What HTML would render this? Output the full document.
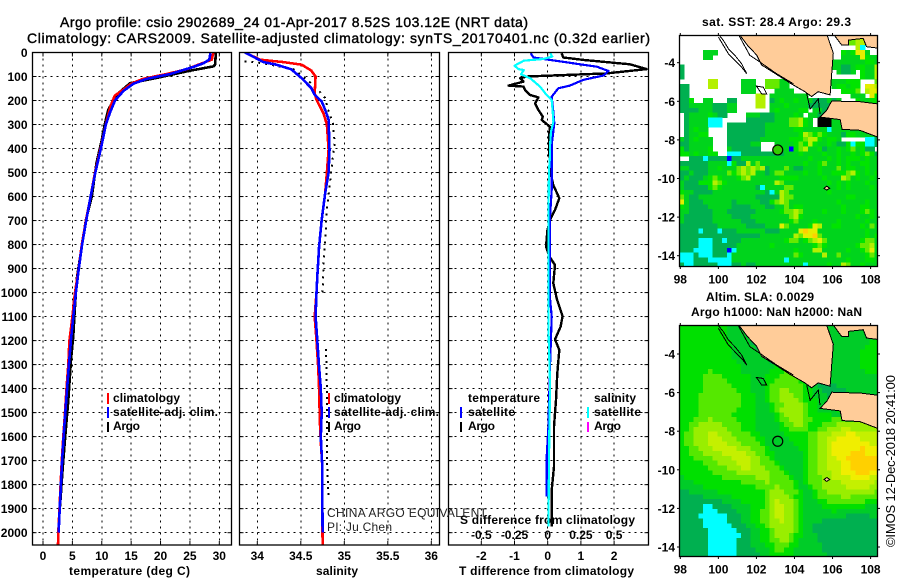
<!DOCTYPE html>
<html>
<head>
<meta charset="utf-8">
<title>Argo profile</title>
<style>
html,body{margin:0;padding:0;background:#fff;}
svg{display:block;}
text{font-family:"Liberation Sans",sans-serif;fill:#000;}
.t{font-size:14px;stroke:#000;stroke-width:.4px;}
.b{font-size:12px;font-weight:bold;}
</style>
</head>
<body>
<svg id="chart" width="900" height="580" viewBox="0 0 900 580" xmlns="http://www.w3.org/2000/svg">
<defs>
<clipPath id="clip-p1"><rect x="32.5" y="52.5" width="199" height="492.5"/></clipPath>
<clipPath id="clip-p2"><rect x="239.5" y="52.5" width="200" height="492.5"/></clipPath>
<clipPath id="clip-p3"><rect x="448.5" y="52.5" width="200" height="492.5"/></clipPath>
<clipPath id="clip-m1"><rect x="679.5" y="35.5" width="198" height="231"/></clipPath>
<clipPath id="clip-m2"><rect x="679.5" y="325.5" width="198" height="231"/></clipPath>
</defs>
<text class="t" x="60" y="27" textLength="468" lengthAdjust="spacing">Argo profile: csio 2902689_24 01-Apr-2017 8.52S 103.12E (NRT data)</text>
<text class="t" x="27" y="43" textLength="623" lengthAdjust="spacing">Climatology: CARS2009. Satellite-adjusted climatology: synTS_20170401.nc (0.32d earlier)</text>

<text class="b" x="69" y="575" textLength="121" lengthAdjust="spacing">temperature (deg C)</text>
<text class="b" x="316" y="575" textLength="42" lengthAdjust="spacing">salinity</text>
<text class="b" x="459" y="575" textLength="175" lengthAdjust="spacing">T difference from climatology</text>
<text class="b" x="460" y="524" textLength="175" lengthAdjust="spacing">S difference from climatology</text>

<text class="b" x="113" y="402" textLength="67" lengthAdjust="spacing">climatology</text>
<text class="b" x="113" y="416" textLength="105" lengthAdjust="spacing">satellite-adj. clim.</text>
<text class="b" x="113" y="430" textLength="27" lengthAdjust="spacing">Argo</text>
<text class="b" x="334" y="402" textLength="67" lengthAdjust="spacing">climatology</text>
<text class="b" x="334" y="416" textLength="105" lengthAdjust="spacing">satellite-adj. clim.</text>
<text class="b" x="334" y="430" textLength="27" lengthAdjust="spacing">Argo</text>
<text class="b" x="468" y="402" textLength="72" lengthAdjust="spacing">temperature</text>
<text class="b" x="468" y="416" textLength="47" lengthAdjust="spacing">satellite</text>
<text class="b" x="468" y="430" textLength="27" lengthAdjust="spacing">Argo</text>
<text class="b" x="594" y="402" textLength="42" lengthAdjust="spacing">salinity</text>
<text class="b" x="594" y="416" textLength="47" lengthAdjust="spacing">satellite</text>
<text class="b" x="594" y="430" textLength="27" lengthAdjust="spacing">Argo</text>

<text class="b" x="702" y="26" textLength="149" lengthAdjust="spacing">sat. SST: 28.4 Argo: 29.3</text>
<text class="b" x="706" y="301" textLength="108" lengthAdjust="spacing">Altim. SLA: 0.0029</text>
<text class="b" x="691" y="316" textLength="171" lengthAdjust="spacing">Argo h1000: NaN h2000: NaN</text>
<text transform="translate(895,547) rotate(-90)" font-size="13" textLength="172" lengthAdjust="spacing">©IMOS 12-Dec-2018 20:41:00</text>
<g id="layer"></g>
<text x="327" y="517" font-size="12" textLength="160" lengthAdjust="spacing" style="fill:#222">CHINA ARGO EQUIVALENT</text>
<text x="327" y="531" font-size="12" textLength="65" lengthAdjust="spacing" style="fill:#222">PI: Ju Chen</text>
</svg>
<script>
// ---------- profile data (depth in m) ----------
const depthTicks = [0,100,200,300,400,500,600,700,800,900,1000,1100,1200,1300,1400,1500,1600,1700,1800,1900,2000];
const tempTicks = [0,5,10,15,20,25,30];
const salTicks = [34,34.5,35,35.5,36];
const salTickLabels = ['34','34.5','35','35.5','36'];
const tDiffTicks = [-2,-1,0,1,2];
const sDiffTicks = [-0.5,-0.25,0,0.25,0.5];
const sDiffLabels = ['-0.5','-0.25','0','0.25','0.5'];
const lonTicks = [98,100,102,104,106,108];
const latTicks = [-4,-6,-8,-10,-12,-14];

const tempClimDepth = [0,30,40,70,90,110,130,150,180,230,300,400,500,600,700,800,900,1000,1100,1200,1300,1400,1500,1600,1700,1800,1900,2000,2050];
const tempClim = [29,28.7,27.6,24.4,21,17,15,13.95,12.2,11.4,10.7,9.8,8.85,8.1,7.3,6.6,6.07,5.45,5,4.5,4.3,4,3.75,3.46,3.2,3,2.8,2.6,2.55];
const tempSatDepth = [0,30,45,60,90,110,130,160,200,250,300,400,500,600,700,800,900,1000,1100,1200,1300,1400,1500,1600,1700,1800,1900,2000];
const tempSat = [28.5,28.3,27.3,25.6,21.6,17.6,15.4,13.7,12.25,11.4,10.7,9.85,8.9,8.1,7.35,6.65,6.1,5.6,5.15,4.75,4.4,4.1,3.8,3.5,3.25,3.05,2.85,2.65];
const tempArgoDepth = [0,50,58,76,103,128,176,239,300,364,460,600,697,808,933,1000,1075,1180,1280,1450,1575,1730,1855,1950];
const tempArgo = [29.4,29.3,29,25,19.9,14.8,12.5,11.1,10.5,10,9.1,8.3,7.3,6.6,5.8,5.6,5.4,5.16,4.76,4.3,3.86,3.35,3,2.7];

const salClimDepth = [0,30,40,51,75,100,170,197,253,300,405,500,585,697,808,933,1000,1100,1200,1310,1400,1540,1620,1710,2050];
const salClim = [33.86,34.03,34.3,34.51,34.62,34.67,34.66,34.68,34.76,34.8,34.82,34.8,34.78,34.74,34.71,34.69,34.68,34.66,34.68,34.7,34.71,34.72,34.73,34.745,34.75];
const salSatDepth = [0,17,40,51,70,107,148,176,204,239,280,405,500,585,697,808,933,1000,1100,1200,1310,1400,1500,1600,1710,2000];
const salSat = [33.86,33.95,34.07,34.22,34.39,34.51,34.62,34.66,34.74,34.78,34.82,34.83,34.82,34.78,34.74,34.71,34.69,34.68,34.67,34.69,34.71,34.73,34.74,34.73,34.745,34.75];
const salArgoDepth = [37,37,45,70,107,148,190,245,294,378,430,544,655,780,890,1000];
const salArgo = [33.85,33.9,34.07,34.42,34.55,34.68,34.78,34.82,34.87,34.89,34.87,34.835,34.8,34.78,34.76,34.75];
const salArgoDeepDepth = [1235,1400,1700,1850];
const salArgoDeep = [34.79,34.8,34.8,34.82];

const tDiffArgoDepth = [3,21,31,49,69,87,100,107,121,138,142,156,177,187,212,239,267,281,309,330,427,490,552,607,656,690,740,809,850,885,961,1024,1098,1142,1195,1239,1336,1447,1558,1725,1822,1975];
const tDiffArgo = [0.42,0.47,1.07,2.48,2.98,1.78,-0.63,-0.83,-0.73,-1.18,-0.73,-0.68,-0.53,-0.28,-0.38,-0.28,-0.15,-0.18,0.07,0.05,0.05,0.07,0.17,0.35,0.22,0.09,-0.01,-0.05,0.05,0.22,0.17,0.27,0.45,0.39,0.22,0.35,0.29,0.25,0.19,0.19,0.12,0.12];
const tDiffSatDepth = [3,21,38,59,77,96,114,138,149,184,246,295,385,427,490,572,684,1024,1100,1308,1558,1683,1850];
const tDiffSat = [-0.51,-0.43,0.42,1.48,1.83,1.68,1.07,0.67,0.32,0.12,0.17,0.2,0.12,0.12,0.12,0.12,0.07,0.07,0.12,0.07,0.02,-0.03,-0.03];
const sDiffSatDepth = [3,17,27,34,55,69,73,91,108,142,177,198,246,288,330,385,427,490,684,1024,1142,1392,1586,1975];
const sDiffSat = [0.018,0.035,-0.033,-0.18,-0.25,-0.22,-0.18,-0.2,-0.13,-0.058,-0.008,0.03,0.038,0.043,0.025,0.018,0.018,0.01,0.005,0.005,0.005,0.018,0.012,0.005];

// ---------- gridded map values (one letter per 0.25 degree cell) ----------
const sstRows = [
"...................................ddeee...",
"...................................ddeek...",
".....................................eC....",
".....bbb..........................cbcffb...",
".....bb...........................bbbbfcbb.",
"................................bbbbbbbccb..",
"a...............................bbaabccbbe",
"a................................baab.cbbe",
"a.....................................cbbe",
"......ee.....bbb..dddbb.........bbbccc...d",
"aa....ee.....bbb..dddbb.........bccbcc.ffe",
"aa...........bbb....bbbb..........cccd.eff",
"aa..............ee.bbbbbbbb.........bbb.fc",
"aac..bb...aa....ee.abcbbcbbbaaabab...cbbcc",
"aabbbbbaaabb....ee.bbbcbbbbaaaaaabbbbbbbbb",
"aaaabbbaaabb.......bcbbbbcc.bbaaaaabbbbbbb",
".abbbbcbaa....bbbaaabbbbcb.bbaaabbbbbbbbb",
".abbbbCCC.....aaaaaabbbddecb.kkkbbbbbbbbbb",
".abbbbCCC.aaaaaaaabbbbbddecb.kkkbbbbbbbbbb",
".abcbb....aaaaaaaabbbbbbccbbbbbCbbbbbbbbbb",
".abbcc....aaaaaaaabbbbbbbcedcdcbbbaccbbbbb",
"babcbbb...aaaaaaabbbbbbcccdeecbccb.....CCa",
"aabbbbb...aaaaabb...bbbbcdcecbbcbaacCccCCa",
"cabbbbc...baaaaaa...bbbBcdebbcabbcbcdbcaa",
"ccbcbbcc..CCCaaaaaaaaabbbcbbbbcbbcbbcbcdca",
"..aaaCaaaaBaabbbbbbbbbbbbbbcbbbcbcbcccbcbb",
"aaaaaabbbbCcaaebdbbbbbbbbbcbbcdbbcbcbbccbb",
"bbaaaabbcbbbdededeabbbdbaabbbcbbbdbccbbcbb",
"aabaaabbbbdcdedebbabddbbbbcbbcbbcccdecbcbc",
"abaaabcdcbbbcdebbbbbbccccbbbbbcbbbedbcbbcb",
"baaacccedcbbbbbbbbbbedbbbbbbbbbcbcbcbbbcbb",
"baaaaacdcbbbbbbbaCbbbbddbbbbbbbbbcbcbbbbcb",
"cbbaaaabbbbbbbbbbbaCbedbbbbbbbbcbbbbbbbbbb",
"dbaabbbbbbbbbbbbaaaaaeddbbbbbbbbbbbccbbbbb",
"fbaaabbbbbbabbbbbaacdedbbbbbbbbbbcbbbbbcbb",
"cbaaaabbbbbaaaabbbaabbdbccbbbbbbbbcbbbccbb",
"bbaaaaabbbaaaaaabbbbbcddedbbbbcbbbcbbbcdcb",
"baaaaaabbbbaaaabbbbbbbbdecbbbbbbbbbbbcbbcb",
"baaaaaabbbbbbaaabbbbbbbcdbbbcbbbbcbbbbbcbb",
"aaaaaaaabbbbbbaaaabbbfdbbbbcfebbccbbbbcbdb",
"aaaaCaaaCaaabbbbbbaaabbbbfgffbbbbbbbbbbcbb",
"aaaaaaaaaaaaaaaaabbbbbbbedffgdbbbbbbbbbcbc",
"aaaaCCCaaCaaabbbbbbbbbcddbcdefdbbbbbbbcddb",
"aaaaCCCaaaaabbbbbbbcbbbbbbbbcdcbbbbbbcddeb",
"aaaCCCCaaaBCbbbbbbbbbbbbcbbbeebbbbbcbbcdfb",
"CCCaCCCaaaCbbbbbbbbbbbbbdcbbbbebbdbbbbbcdb",
"CCCaaaCCCCCbbbbbbbbbbbCbbbbbbbbbbbbcbbbccb",
"aCCaaaaaCCCaabaabbbbbbbbbbCbbbbcbbedbbcbbb"
];
const slaRows = [
"ccccccccccbbbbbbbbbbbbbbbbbbbbbbbbbbbbbbbb",
"ccccccccccbbbbbbbbbbbbbbbbbbbbbbbbbbbbbbbb",
"ccccccccccbbbbbbbbbbbbbbbbbbbbbbbbbbbbbbbb",
"cccccccccccbbbbaabbbbbbbbbbbbbbbbbbbbbbbcc",
"cccccccccccbbbbbaabbbbbbbbbbbbbbbbbbbbbccc",
"cccccccccccbbbbbbaabbbbbbbbbbbbbbbbbbbcccc",
"cccccccccccbbbbbbbaabbbbbbbbbbbbbbbbbbcccc",
"ccccccccccccbbbbbbbaabbbbbbbbbbbbbbbbbcccc",
"cccccccccccccbbbbbbbccccaaabbbbbbbbbbbcccc",
"ccccccdccccccbbbbbbcccdccaaabbbbbbbbbbbccc",
"cccccddddccccccbbbcccddddcbaaabbbbbbbbbbbb",
"cccccdddddcccccbbbccdddddccbaaabbbbbbbbbbb",
"cccccddddddccccbbbcdddddddcbbaaaabbbbbbbbb",
"cccccdddddddcccbbbcddeedddccbbaaaaabbbbbbb",
"ccccdddddddddcccbbcddeeeddccbbbaaaaaabbbbb",
"ccccdddddddddcccbbcddeeeedcccbbbaabbbbbbbb",
"ccccdddddddddcccbbbcddeeeedccbbbbbbbbbbbbb",
"ccccddddddddccccbbbcdeeeeedccbbbbcbbbbbbbb",
"ccccdddddddcccccbbbbcdeeeedcccccbbbbbbbbbb",
"cccdddedddddccccbbbbcddeeeddccccdddccccccc",
"ccddeeeeeddddcccbbbbbcddeedcccdddeeeeeeeee",
"ccdeeeeeeedddcccbbbbbccddddccddeeeffeeeeee",
"cddeeeffeeeddddccbbbbbcccccddeeefffggfffff",
"cddeeefffeeeddddccbbbbbccccddeeffgggggffff",
"cddeeeffffeeeddddcbbbbbbcccddeefggggggggff",
"ccddeeefffffeeedddcbbbbbbccddeefgggggghggg",
"ccdddeeeefffffeeddccbbbbbbcddeefgggghhhggg",
"cccddddeeeeffffeeddcbbbbbbcddeeffgghhhhhhh",
"cccccdddeeeefffeedddcbbbbbcddeefffgghhhhhh",
"ccccccddddeeeffeeedddcbbbbcddeefffgghhhhhh",
"cccccccdddddeeeeeeedddcbbbcddeeeffggghhhgg",
"bccccccccdddddddeeeddddcbbcdddeeffffggggff",
"bbbccccccccccdddddedddddcbcdddeeeefffffffe",
"bbbbbcccccccccccddddedddcbbcddeeeeefffffee",
"aabbbbbbccccccccccdeeedddcbbcddeeeeeeeeeed",
"aaaaabbbbbbcccccccdeeeedccbbcdddddeedddddd",
"aaaaaaaaabbbbcccccdefeeedcbbbccddddddddccc",
"aaaaaCCaaaabbbbcccdeffeedcbbbbcccccccccbbb",
"aaaaaCCCaaaabbbccddeffeedcbbbbbbcbbbbbbbbb",
"aaaaCCCCCCaaabbccddeffeedcbbbbbbbbbaaaaabb",
"aaaaaCCCCCaaabbccddeefeedcbbbbaaaaaaaaaaaa",
"aaaaaCCCCCCaaabbccdeeeeedcbbaaaaaaaaaaaaaa",
"aaaaaaCCCCCCaaabbccdeeeedcbbaaaaaaaaaaaaaa",
"aaaaaaCCCCCCCaabbccdeeedccbbbaaaaaaaaaaaaa",
"aaaaaaCCCCCCaaabbccddeedcbbbbaaaaaaaaaaaaa",
"aaaaaaCCCCCCaaabbbccdddccbbbbbaaaaaaaaaaaa",
"aaaaaaCCCCCCaaaabbbcddccbbbbbbaaaaaaaaaaaa",
"aaaaaaCCCCCCaaaaabbcccccbbbbbbbaaaaaaaaaaa"
];
// ---------- geography (lon, lat) ----------
const sumatra = [[101.08,-2.5],[101.52,-3.09],[102.01,-3.6],[102.27,-4.12],[102.89,-4.5],[103.24,-4.72],[103.76,-5.05],[104.55,-5.5],[104.9,-5.75],[105.24,-5.5],[105.87,-5.67],[105.96,-4.5],[106.04,-3.5],[105.69,-2.5]];
const borneoSide = [[106.04,-2.5],[106.48,-3.09],[106.83,-3.09],[106.83,-2.83],[107.61,-2.74],[107.79,-3.17],[108.5,-3.26],[108.5,-2.5]];
const java = [[105.34,-6.82],[105.7,-6.45],[105.96,-5.98],[106.5,-6],[107.44,-6.02],[108.5,-6.15],[108.5,-7.9],[107.44,-7.5],[106.5,-7.45],[106.4,-6.95]];
const enggano = [[102,-5.21],[102.36,-5.27],[102.54,-5.61],[102.27,-5.61],[102.1,-5.35]];
const christmasIsland = [[105.55,-10.5],[105.7,-10.4],[105.85,-10.5],[105.7,-10.6]];
const mentawai = [[100,-2.53],[100.26,-2.84],[100.52,-3.27],[100.87,-3.62],[101.22,-4.05],[101.49,-4.57],[101.22,-4.23],[100.87,-3.88],[100.52,-3.53],[100.26,-3.1],[100,-2.67]];
const shelfLine = [[101.05,-2.53],[101.66,-3.62],[102.19,-3.97],[103.06,-4.57],[103.94,-5.09]];
const straitLine = [[104.64,-5.6],[104.82,-6.4],[105.25,-5.87],[105.34,-6.65]];
const profileLon = 103.12;
const profileLat = -8.52;

// ---------- drawing ----------
const NS = 'http://www.w3.org/2000/svg';
const layer = document.getElementById('layer');
function make(tag, attrs, name) {
  const el = document.createElementNS(NS, tag);
  for (const k in attrs) el.setAttribute(k, attrs[k]);
  
  
  layer.appendChild(el);
  return el;
}
function label(x, y, str, anchor, name) {
  const el = make('text', {x: x, y: y, 'text-anchor': anchor, 'class': 'b'}, name);
  el.textContent = str;
}
const TOP = 52.5, BOTTOM = 545;
const yDepth = d => 52.5 + d * 0.2401;
const xTemp = t => 43 + t * 5.877;
const xSal = s => 257.3 + (s - 34) * 87;
const xTD = t => 547.7 + t * 33.2;
const xSD = s => 547.7 + s * 132.8;

function grid(x0, x1, xs, prefix) {
  depthTicks.forEach(d => {
    make('line', {x1: x0, x2: x1, y1: yDepth(d), y2: yDepth(d), stroke: '#000', 'stroke-width': 1, 'stroke-dasharray': '2 4', 'shape-rendering': 'crispEdges'}, prefix + '-depth-gridline');
  });
  xs.forEach(x => {
    make('line', {x1: x, x2: x, y1: TOP, y2: BOTTOM, stroke: '#000', 'stroke-width': 1, 'stroke-dasharray': '2 4', 'shape-rendering': 'crispEdges'}, prefix + '-vertical-gridline');
    make('line', {x1: x, x2: x, y1: BOTTOM - 4, y2: BOTTOM, stroke: '#000', 'stroke-width': 1}, prefix + '-x-tick');
    make('line', {x1: x, x2: x, y1: TOP, y2: TOP + 4, stroke: '#000', 'stroke-width': 1}, prefix + '-x-tick-top');
  });
  depthTicks.forEach(d => {
    make('line', {x1: x0, x2: x0 + 4, y1: yDepth(d), y2: yDepth(d), stroke: '#000', 'stroke-width': 1}, prefix + '-y-tick');
    make('line', {x1: x1 - 4, x2: x1, y1: yDepth(d), y2: yDepth(d), stroke: '#000', 'stroke-width': 1}, prefix + '-y-tick');
  });
}
function frame(x0, x1, y0, y1, name) {
  make('rect', {x: x0, y: y0, width: x1 - x0, height: y1 - y0, fill: 'none', stroke: '#000', 'stroke-width': 1.3}, name);
}
function profile(values, depths, xf, color, clip, width, name, dash) {
  const pts = values.map((v, i) => xf(v).toFixed(1) + ',' + yDepth(depths[i]).toFixed(1)).join(' ');
  const attrs = {points: pts, fill: 'none', stroke: color, 'stroke-width': width, 'stroke-linejoin': 'round', 'clip-path': 'url(#' + clip + ')', 'shape-rendering': 'crispEdges'};
  if (dash) attrs['stroke-dasharray'] = dash;
  make('polyline', attrs, name);
}
function legendMark(x, y0, y1, color, name) {
  make('line', {x1: x, x2: x, y1: y0, y2: y1, stroke: color, 'stroke-width': 2, 'shape-rendering': 'crispEdges'}, name);
}

// panel 1 : temperature
grid(32.5, 231.5, tempTicks.map(xTemp), 'temperature-panel');
profile(tempArgo, tempArgoDepth, xTemp, '#000', 'clip-p1', 2.6, 'temperature-argo-line');
profile(tempClim, tempClimDepth, xTemp, '#f00', 'clip-p1', 2.6, 'temperature-climatology-line');
profile(tempSat, tempSatDepth, xTemp, '#00f', 'clip-p1', 2.6, 'temperature-satellite-line');
frame(32.5, 231.5, TOP, BOTTOM, 'temperature-panel-frame');
depthTicks.forEach(d => label(27.5, yDepth(d) + 4.5, String(d), 'end', 'depth-tick-label'));
tempTicks.forEach(t => label(xTemp(t), 560, String(t), 'middle', 'temperature-tick-label'));
legendMark(108, 393, 404, '#f00', 'legend-mark-climatology');
legendMark(108, 407, 418, '#00f', 'legend-mark-satellite');
legendMark(108, 422, 432, '#000', 'legend-mark-argo');

// panel 2 : salinity
grid(239.5, 439.5, salTicks.map(xSal), 'salinity-panel');
profile(salArgo, salArgoDepth, xSal, '#000', 'clip-p2', 2, 'salinity-argo-dotted-line', '2 5');
profile(salArgoDeep, salArgoDeepDepth, xSal, '#000', 'clip-p2', 2, 'salinity-argo-dotted-line-deep', '2 4');
profile(salClim, salClimDepth, xSal, '#f00', 'clip-p2', 2.6, 'salinity-climatology-line');
profile(salSat, salSatDepth, xSal, '#00f', 'clip-p2', 2.6, 'salinity-satellite-line');
frame(239.5, 439.5, TOP, BOTTOM, 'salinity-panel-frame');
salTicks.forEach((s, i) => label(xSal(s), 560, salTickLabels[i], 'middle', 'salinity-tick-label'));
legendMark(329, 393, 404, '#f00', 'legend-mark-climatology-salinity');
legendMark(329, 407, 418, '#00f', 'legend-mark-satellite-salinity');
legendMark(329, 422, 432, '#000', 'legend-mark-argo-salinity');

// panel 3 : differences
grid(448.5, 648.5, tDiffTicks.map(xTD), 'difference-panel');
profile(tDiffArgo, tDiffArgoDepth, xTD, '#000', 'clip-p3', 2.4, 'difference-t-argo-line');
profile(tDiffSat, tDiffSatDepth, xTD, '#00f', 'clip-p3', 2.2, 'difference-t-satellite-line');
profile(sDiffSat, sDiffSatDepth, xSD, '#0ff', 'clip-p3', 2.2, 'difference-s-satellite-line');
frame(448.5, 648.5, TOP, BOTTOM, 'difference-panel-frame');
tDiffTicks.forEach(t => label(xTD(t), 560, String(t), 'middle', 't-difference-tick-label'));
sDiffTicks.forEach((s, i) => label(xSD(s), 539, sDiffLabels[i], 'middle', 's-difference-tick-label'));
legendMark(461, 407, 418, '#00f', 'legend-mark-t-satellite');
legendMark(461, 422, 432, '#000', 'legend-mark-t-argo');
legendMark(588, 407, 418, '#0ff', 'legend-mark-s-satellite');
legendMark(588, 422, 432, '#f0f', 'legend-mark-s-argo');

// maps
const sstColors = {a:'#00b050', b:'#00d41c', c:'#00e400', d:'#66ea00', e:'#b4f000', f:'#e4ee00', g:'#ffd000', C:'#00ffff', B:'#0000ff', k:'#000000'};
const slaColors = {a:'#00b050', b:'#00cc28', c:'#00e000', d:'#55e800', e:'#99ee00', f:'#c4f000', g:'#f0ee00', h:'#ffd000', C:'#00ffff'};
function drawMap(rows, colors, top, bottom, lat4y, clip, fillCircle, cellName, prefix) {
  const left = 679.5, right = 877.5;
  const xLon = lon => 680.3 + (lon - 98) * 19.03;
  const yLat = lat => lat4y + (-4 - lat) * 19.3;
  const lat0 = -4 + (lat4y - top) / 19.3;
  rows.forEach((row, j) => {
    for (let i = 0; i < row.length; i++) {
      const c = colors[row[i]];
      if (!c) continue;
      const x0 = xLon(97.95 + i * 0.25);
      const x1 = xLon(97.95 + (i + 1) * 0.25);
      const y0 = yLat(lat0 - j * 0.25);
      const y1 = yLat(lat0 - (j + 1) * 0.25);
      make('rect', {x: x0.toFixed(1), y: y0.toFixed(1), width: (x1 - x0 + 0.5).toFixed(1), height: (y1 - y0 + 0.5).toFixed(1), fill: c, 'clip-path': 'url(#' + clip + ')', 'shape-rendering': 'crispEdges'}, cellName);
    }
  });
  const toPts = arr => arr.map(p => xLon(p[0]).toFixed(1) + ',' + yLat(p[1]).toFixed(1)).join(' ');
  [sumatra, borneoSide, java, christmasIsland].forEach((poly, idx) => {
    make('polygon', {points: toPts(poly), fill: '#ffcc99', stroke: '#000', 'stroke-width': 1, 'clip-path': 'url(#' + clip + ')', 'shape-rendering': 'crispEdges'}, prefix + '-land-' + idx);
  });
  make('polygon', {points: toPts(enggano), fill: 'none', stroke: '#000', 'stroke-width': 1, 'clip-path': 'url(#' + clip + ')', 'shape-rendering': 'crispEdges'}, prefix + '-island-outline');
  [mentawai, shelfLine, straitLine].forEach((line, idx) => {
    make('polyline', {points: toPts(line), fill: 'none', stroke: '#000', 'stroke-width': 1, 'clip-path': 'url(#' + clip + ')', 'shape-rendering': 'crispEdges'}, prefix + '-contour-' + idx);
  });
  make('circle', {cx: xLon(profileLon), cy: yLat(profileLat), r: 5, fill: fillCircle, stroke: '#000', 'stroke-width': 1.2}, prefix + '-profile-location');
  frame(left, right, top, bottom, prefix + '-frame');
  lonTicks.forEach(l => {
    make('line', {x1: xLon(l), x2: xLon(l), y1: top - 2.5, y2: top, stroke: '#000', 'stroke-width': 1}, prefix + '-top-tick');
    make('line', {x1: xLon(l), x2: xLon(l), y1: bottom, y2: bottom + 2.5, stroke: '#000', 'stroke-width': 1}, prefix + '-bottom-tick');
    label(xLon(l), bottom + 17, String(l), 'middle', prefix + '-longitude-label');
  });
  latTicks.forEach(l => {
    make('line', {x1: left - 2.5, x2: left, y1: yLat(l), y2: yLat(l), stroke: '#000', 'stroke-width': 1}, prefix + '-left-tick');
    make('line', {x1: right, x2: right + 2.5, y1: yLat(l), y2: yLat(l), stroke: '#000', 'stroke-width': 1}, prefix + '-right-tick');
    label(675, yLat(l) + 4.5, String(l), 'end', prefix + '-latitude-label');
  });
}
drawMap(sstRows, sstColors, 35.5, 266.5, 62.7, 'clip-m1', '#33cc00', 'sst-cell', 'sst-map');
drawMap(slaRows, slaColors, 325.5, 556.5, 354, 'clip-m2', 'none', 'sla-cell', 'sla-map');
</script>
</body>
</html>
